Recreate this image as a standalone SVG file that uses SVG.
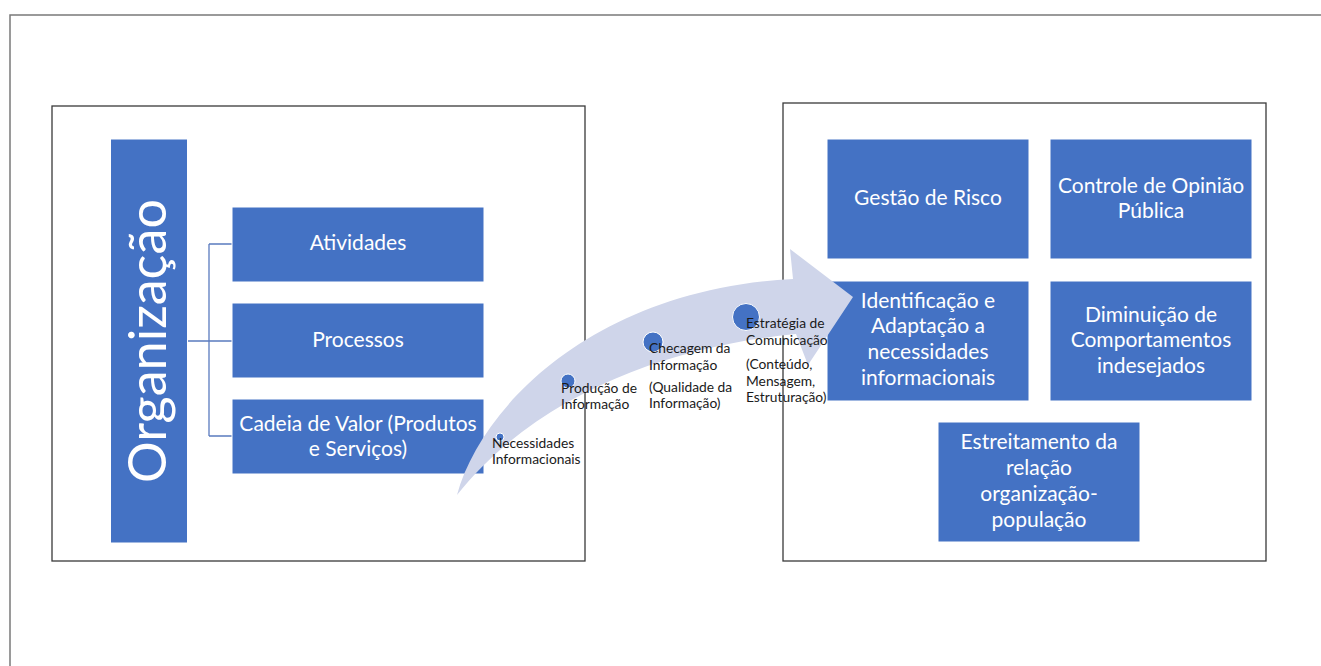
<svg xmlns="http://www.w3.org/2000/svg" width="1321" height="666" viewBox="0 0 1321 666">
  <style>
    .box { fill: #4472c4; stroke: #ffffff; stroke-width: 1; }
    .frame { fill: #ffffff; stroke: #3a3a3a; stroke-width: 1.3; }
    .lbl { font-family: Lato, "Liberation Sans", sans-serif; font-size: 21px; fill: #ffffff; text-anchor: middle; }
    .step { font-family: Lato, "Liberation Sans", sans-serif; font-size: 13.8px; fill: #1a1a1a; }
    .dot { fill: #4472c4; stroke: #ffffff; stroke-width: 1; }
    .link { fill: none; stroke: #5a7bbf; stroke-width: 1.3; }
  </style>

  <rect width="1321" height="666" fill="#ffffff"/>

  <!-- page border (top and left edges) -->
  <path d="M10,666 V15 H1321" fill="none" stroke="#7a7a7a" stroke-width="1.5"/>

  <!-- left and right panels -->
  <rect id="panel-left" class="frame" x="52" y="106" width="533" height="455"/>
  <rect id="panel-right" class="frame" x="783" y="103" width="483" height="458"/>

  <!-- bracket linking the organisation to its parts -->
  <g id="connectors">
    <path class="link" d="M187,341 H232 M209,244 V436 M209,244 H232 M209,436 H232"/>
  </g>

  <g id="node-organizacao">
    <rect class="box" x="110.5" y="139" width="77" height="404"/>
    <text class="lbl" transform="translate(166,341) rotate(-90)" style="font-size:52px" textLength="284" lengthAdjust="spacingAndGlyphs">Organização</text>
  </g>

  <g id="node-atividades">
    <rect class="box" x="232" y="207" width="252" height="75"/>
    <text class="lbl" x="358" y="250">Atividades</text>
  </g>
  <g id="node-processos">
    <rect class="box" x="232" y="303" width="252" height="75"/>
    <text class="lbl" x="358" y="347">Processos</text>
  </g>
  <g id="node-cadeia">
    <rect class="box" x="232" y="399" width="252" height="75"/>
    <text class="lbl" x="358" y="431">Cadeia de Valor (Produtos</text>
    <text class="lbl" x="358" y="456">e Serviços)</text>
  </g>

  <!-- right-hand outcome boxes -->
  <g id="node-gestao">
    <rect class="box" x="827" y="139" width="202" height="120"/>
    <text class="lbl" x="928" y="205">Gestão de Risco</text>
  </g>
  <g id="node-controle">
    <rect class="box" x="1050" y="139" width="202" height="120"/>
    <text class="lbl" x="1151" y="193">Controle de Opinião</text>
    <text class="lbl" x="1151" y="218">Pública</text>
  </g>
  <g id="node-identificacao">
    <rect class="box" x="827" y="281" width="202" height="120"/>
    <text class="lbl" x="928" y="308">Identificação e</text>
    <text class="lbl" x="928" y="333">Adaptação a</text>
    <text class="lbl" x="928" y="359">necessidades</text>
    <text class="lbl" x="928" y="385">informacionais</text>
  </g>
  <g id="node-diminuicao">
    <rect class="box" x="1050" y="281" width="202" height="120"/>
    <text class="lbl" x="1151" y="322">Diminuição de</text>
    <text class="lbl" x="1151" y="347">Comportamentos</text>
    <text class="lbl" x="1151" y="373">indesejados</text>
  </g>
  <g id="node-estreitamento">
    <rect class="box" x="938" y="422" width="202" height="120"/>
    <text class="lbl" x="1039" y="449">Estreitamento da</text>
    <text class="lbl" x="1039" y="475">relação</text>
    <text class="lbl" x="1039" y="501">organização-</text>
    <text class="lbl" x="1039" y="527">população</text>
  </g>

  <!-- curved process arrow -->
  <g id="node-processo-arrow">
    <path fill="#cfd5ea" d="M457,495 C480,410 590,290 793,279 L790,249 L853,297 L808,365 L796,334 C680,345 540,390 457,495 Z"/>
    <circle class="dot" cx="500" cy="437" r="4"/>
    <circle class="dot" cx="568" cy="381" r="7"/>
    <circle class="dot" cx="653" cy="342" r="10"/>
    <circle class="dot" cx="746" cy="317" r="13.5"/>
    <text class="step" x="492" y="448">Necessidades</text>
    <text class="step" x="492" y="464">Informacionais</text>
    <text class="step" x="561" y="393">Produção de</text>
    <text class="step" x="561" y="409">Informação</text>
    <text class="step" x="649" y="353">Checagem da</text>
    <text class="step" x="649" y="370">Informação</text>
    <text class="step" x="649" y="392">(Qualidade da</text>
    <text class="step" x="649" y="408">Informação)</text>
    <text class="step" x="746" y="328">Estratégia de</text>
    <text class="step" x="746" y="345">Comunicação</text>
    <text class="step" x="746" y="369">(Conteúdo,</text>
    <text class="step" x="746" y="386">Mensagem,</text>
    <text class="step" x="746" y="402">Estruturação)</text>
  </g>
</svg>
